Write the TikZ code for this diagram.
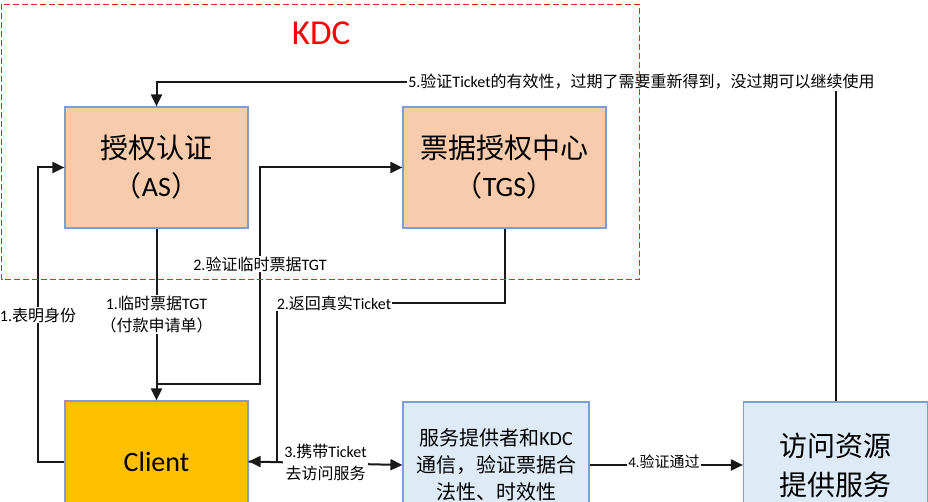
\documentclass[tikz,border=0pt]{standalone}
\usepackage{fontspec}
\setmainfont{Noto Sans CJK SC}
\newfontfamily\lat{Carlito}
\usetikzlibrary{arrows.meta}
\definecolor{peach}{HTML}{F8CBAD}
\definecolor{gold}{HTML}{FFC000}
\definecolor{lblue}{HTML}{DEEBF7}
\definecolor{bord}{HTML}{7E9DD3}
\definecolor{kdcred}{HTML}{FF2020}
\tikzset{
  box/.style={draw=bord, line width=1.2pt, rectangle, inner sep=0pt, align=center},
  arr/.style={draw=black!90, line width=2pt, -{Triangle[length=12pt,width=11pt]}},
  lbl/.style={fill=white, inner sep=1pt, align=center, font=\fontsize{16}{22}\selectfont},
}
\begin{document}
\begin{tikzpicture}[x=1pt,y=-1pt]
\useasboundingbox (0,0) rectangle (928,502);
\clip (0,0) rectangle (928,502);
\fill[white] (0,0) rectangle (928,502);

% boxes
\node[box, fill=peach, minimum width=183pt, minimum height=121pt, font=\fontsize{28}{38}\selectfont] (AS) at (156.5,167.5) {授权认证\\（{\lat AS}）};
\node[box, fill=peach, minimum width=203pt, minimum height=121pt, font=\fontsize{28}{38}\selectfont] (TGS) at (504.5,167.5) {票据授权中心\\（{\lat TGS}）};
\node[box, fill=gold, minimum width=183pt, minimum height=121pt, font=\lat\fontsize{28}{34}\selectfont] (Client) at (156.5,461.5) {Client};
\node[box, fill=lblue, minimum width=186pt, minimum height=126pt, font=\fontsize{20}{27}\selectfont] (Service) at (496,465) {服务提供者和{\lat KDC}\\通信，验证票据合\\法性、时效性};
\node[box, fill=lblue, minimum width=184pt, minimum height=126pt, font=\fontsize{28}{39}\selectfont] (Res) at (835.5,465) {访问资源\\提供服务};

% coordinates
\coordinate (c3a) at (156.5,384);
\coordinate (c3b) at (260,384);
\coordinate (c4a) at (277,303);
\coordinate (c1a) at (38,461.5);
\coordinate (c7) at (156.5,82);

% connectors
\draw[arr] (Client.west) -- (c1a) |- (AS.west);
\node[lbl] (l1) at (38,315) {{\lat 1.}表明身份};

\draw[arr] (AS.south) -- (Client.north);
\node[lbl] (l2) at (156.5,314.5) {{\lat 1.}临时票据{\lat TGT}\\（付款申请单）};

\draw[arr] (c3a) -- (c3b) |- (TGS.west);
\node[lbl] (l3) at (260,264) {{\lat 2.}验证临时票据{\lat TGT}};

\draw[arr] (TGS.south) |- (c4a) |- (Client.east);
\node[lbl] (l4) at (334,303) {{\lat 2.}返回真实{\lat Ticket}};

\draw[arr] (Client.east) -- (Service.west);
\node[lbl] (l5) at (325.5,462) {{\lat 3.}携带{\lat Ticket}\\去访问服务};

\draw[arr] (Service.east) -- (Res.west);
\node[lbl, font=\fontsize{15}{18}\selectfont] (l6) at (664,461.5) {{\lat 4.}验证通过};

\draw[arr] (Res.north) |- (c7) -- (AS.north);
\node[lbl] (l7) at (641.5,82) {{\lat 5.}验证{\lat Ticket}的有效性，过期了需要重新得到，没过期可以继续使用};

% KDC region
\draw[kdcred, line width=1pt, dash pattern=on 6pt off 3pt] (1.5,4.5) rectangle (639,280);
\node[text=red, font=\lat\fontsize{35}{40}\selectfont] (kdc) at (321,33) {KDC};
\end{tikzpicture}
\end{document}
